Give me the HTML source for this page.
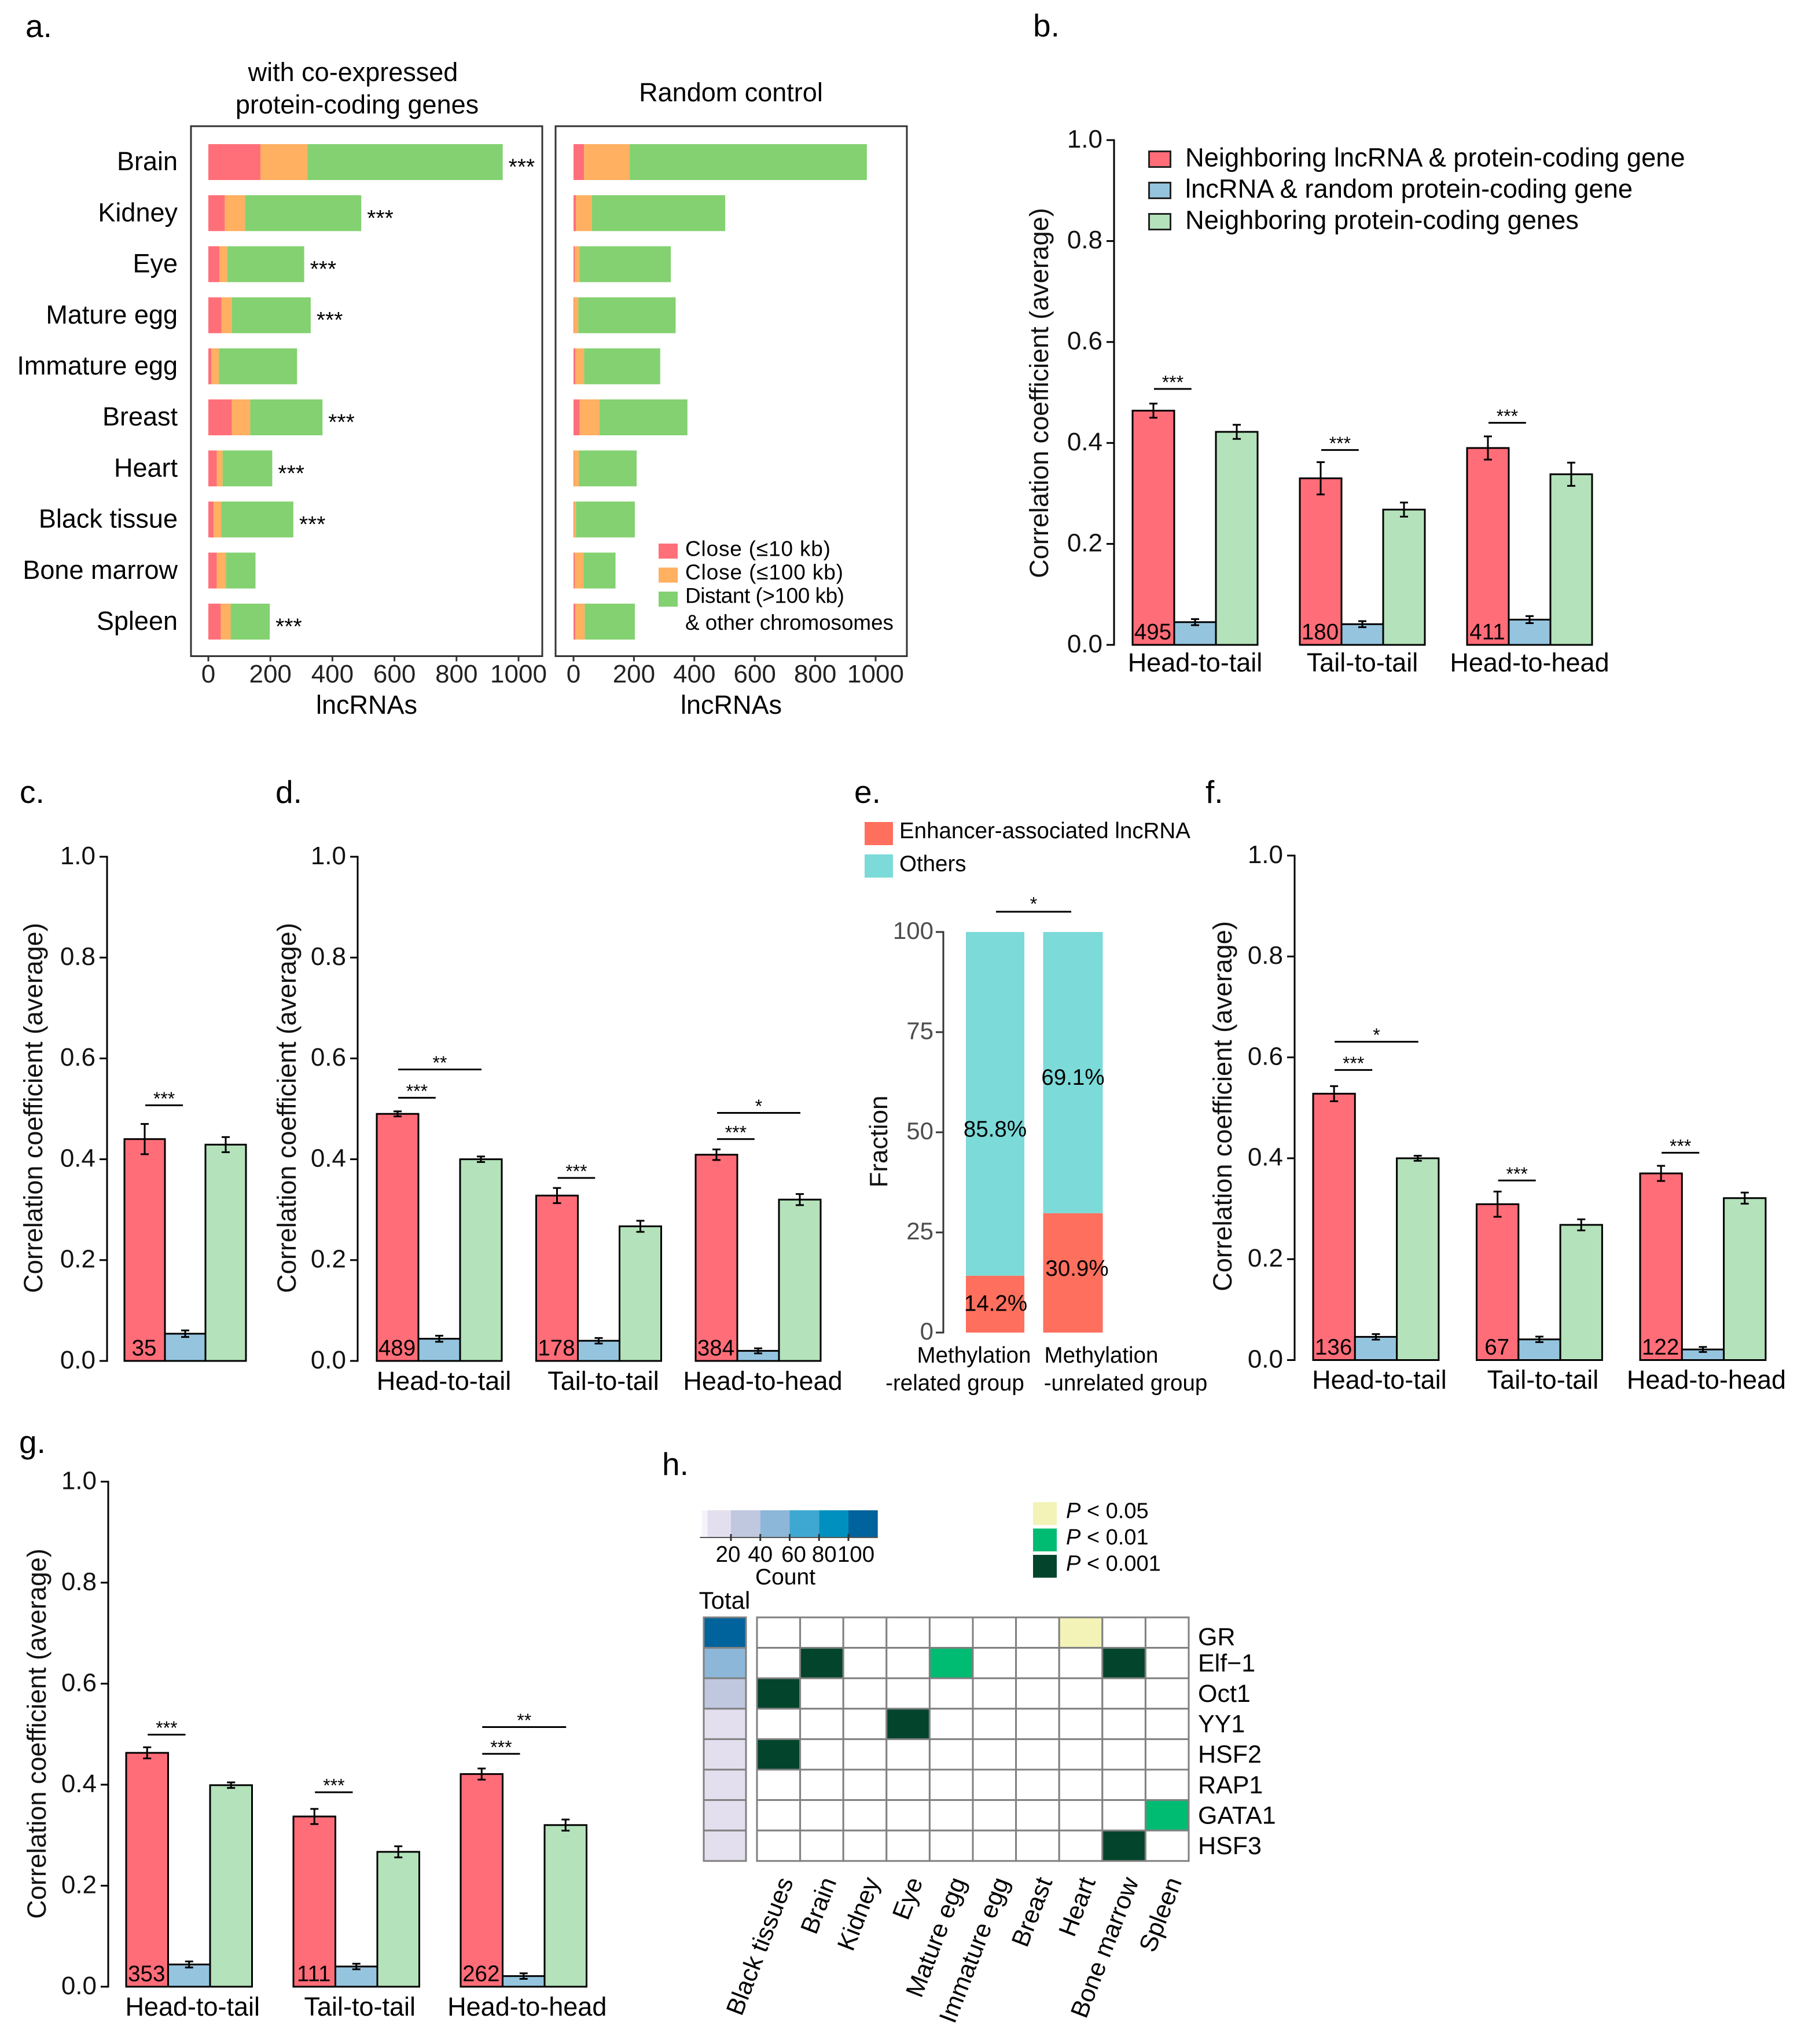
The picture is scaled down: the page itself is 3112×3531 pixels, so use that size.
<!DOCTYPE html>
<html lang="en">
<head>
<meta charset="utf-8">
<title>Correlation of lncRNAs and protein-coding genes</title>
<style>
html,body{margin:0;padding:0;background:#fff;width:3112px;height:3531px;overflow:hidden}
svg{display:block;font-family:"Liberation Sans",Arial,sans-serif}
</style>
</head>
<body>
<svg id="fig" xmlns="http://www.w3.org/2000/svg" width="3112" height="3531" viewBox="0 0 3112 3531">
<rect x="0" y="0" width="3112" height="3531" fill="#fff"/>
<g id="pa"></g>
<g id="pb"></g>
<g id="pc"></g>
<g id="pd"></g>
<g id="pe"></g>
<g id="pf"></g>
<g id="pg"></g>
<g id="ph"></g>
</svg>
<script>
/* ---------- data: panel a ---------- */
const tissues = ['Brain','Kidney','Eye','Mature egg','Immature egg','Breast','Heart','Black tissue','Bone marrow','Spleen'];
const coClose10 = [168,53,36,42,10,76,27,17,27,40];
const coClose100 = [152,65,25,34,24,59,19,25,30,32];
const coDistant = [629,375,248,254,252,233,160,232,95,126];
const coStars = ['***','***','***','***','','***','***','***','','***'];
const rndClose10 = [35,8,4,2,6,20,2,2,4,6];
const rndClose100 = [151,53,16,14,29,66,16,6,29,31];
const rndDistant = [785,441,302,322,252,291,191,195,106,166];
const countTicks = [0,200,400,600,800,1000];
const stackLegend = ['Close (≤10 kb)','Close (≤100 kb)','Distant (>100 kb)'];

/* ---------- data: shared bars ---------- */
const orientations = ['Head-to-tail','Tail-to-tail','Head-to-head'];
const corrTicks = [0,0.2,0.4,0.6,0.8,1.0];
const barLegend = ['Neighboring lncRNA & protein-coding gene','lncRNA & random protein-coding gene','Neighboring protein-coding genes'];

/* panel b */
const bNeighbor = [0.464,0.330,0.390];
const bRandom = [0.045,0.041,0.050];
const bCoding = [0.422,0.268,0.338];
const bNeighborErr = [0.014,0.032,0.023];
const bRandomErr = [0.006,0.006,0.007];
const bCodingErr = [0.014,0.014,0.023];
const bCounts = ['495','180','411'];
const bSigGroup = [0,1,2];
const bSigLevel = [0.507,0.386,0.440];
const bSigEnd = [0.9,0.9,0.9];
const bSigText = ['***','***','***'];

/* panel c */
const cNeighbor = [0.440];
const cRandom = [0.054];
const cCoding = [0.429];
const cNeighborErr = [0.030];
const cRandomErr = [0.0065];
const cCodingErr = [0.015];
const cCounts = ['35'];
const cSigGroup = [0];
const cSigLevel = [0.507];
const cSigEnd = [0.93];
const cSigText = ['***'];

/* panel d */
const dNeighbor = [0.490,0.328,0.409];
const dRandom = [0.044,0.040,0.020];
const dCoding = [0.400,0.267,0.320];
const dNeighborErr = [0.005,0.015,0.0105];
const dRandomErr = [0.006,0.0055,0.005];
const dCodingErr = [0.0055,0.011,0.011];
const dCounts = ['489','178','384'];
const dSigGroup = [0,0,1,2,2];
const dSigLevel = [0.522,0.578,0.363,0.440,0.492];
const dSigEnd = [0.9,2,0.9,0.9,2];
const dSigText = ['***','**','***','***','*'];

/* panel e */
const methGroups = ['Methylation|-related group','Methylation|-unrelated group'];
const enhancerShare = [14.2,29.8];
const othersShare = [85.8,70.2];
const enhancerLabels = ['14.2%','30.9%'];
const othersLabels = ['85.8%','69.1%'];
const fractionTicks = [0,25,50,75,100];

/* panel f */
const fNeighbor = [0.528,0.309,0.370];
const fRandom = [0.046,0.041,0.021];
const fCoding = [0.400,0.268,0.321];
const fNeighborErr = [0.015,0.025,0.015];
const fRandomErr = [0.0055,0.0055,0.005];
const fCodingErr = [0.005,0.011,0.011];
const fCounts = ['136','67','122'];
const fSigGroup = [0,0,1,2];
const fSigLevel = [0.575,0.631,0.356,0.411];
const fSigEnd = [0.9,2,0.9,0.9];
const fSigText = ['***','*','***','***'];

/* panel g */
const gNeighbor = [0.463,0.337,0.421];
const gRandom = [0.044,0.040,0.021];
const gCoding = [0.399,0.267,0.320];
const gNeighborErr = [0.011,0.015,0.011];
const gRandomErr = [0.006,0.0055,0.0055];
const gCodingErr = [0.0055,0.011,0.011];
const gCounts = ['353','111','262'];
const gSigGroup = [0,1,2,2];
const gSigLevel = [0.499,0.385,0.461,0.514];
const gSigEnd = [0.9,0.9,0.9,2];
const gSigText = ['***','***','***','**'];

/* panel h */
const motifs = ['GR','Elf−1','Oct1','YY1','HSF2','RAP1','GATA1','HSF3'];
const heatColumns = ['Black tissues','Brain','Kidney','Eye','Mature egg','Immature egg','Breast','Heart','Bone marrow','Spleen'];
const motifTotals = [105,50,30,12,12,12,12,12];
const heatLevels = [
 [0,0,0,0,0,0,0,1,0,0],
 [0,3,0,0,2,0,0,0,3,0],
 [3,0,0,0,0,0,0,0,0,0],
 [0,0,0,3,0,0,0,0,0,0],
 [3,0,0,0,0,0,0,0,0,0],
 [0,0,0,0,0,0,0,0,0,0],
 [0,0,0,0,0,0,0,0,0,2],
 [0,0,0,0,0,0,0,0,3,0]
];
const levelColors = ['#ffffff','#f3f3b8','#00bc72','#03452c'];
const levelLabels = ['< 0.05','< 0.01','< 0.001'];
const countStops = [0,4,20,40,60,80,100,120];
const countColors = ['#f6f4fa','#e4dfee','#c0c8e0','#8db7d8','#3fa8d2','#0090c0','#00639c'];
const countTickLabels = [20,40,60,80,100];

/* ---------- helpers ---------- */
const NS = 'http://www.w3.org/2000/svg';
const RED = '#ff6d78', BLUE = '#95c4df', GREEN = '#b4e2bb';
function mk(parent, tag, attrs, content) {
  const el = document.createElementNS(NS, tag);
  for (const k in attrs) el.setAttribute(k, attrs[k]);
  if (content !== undefined) el.textContent = content;
  parent.appendChild(el);
  return el;
}
function rect(p, x, y, w, h, fill, name, stroke, sw) {
  const el = mk(p, 'rect', {x:x, y:y, width:w, height:h, fill:fill, stroke:stroke||'none', 'stroke-width':sw||0});
  
  
  return el;
}
function line(p, x1, y1, x2, y2, sw, color, name) {
  const el = mk(p, 'line', {x1:x1, y1:y1, x2:x2, y2:y2, stroke:color||'#000', 'stroke-width':sw||3});
  
  
  return el;
}
/* y is the vertical centre of the text */
function text(p, x, y, str, size, anchor, name, fill) {
  const el = mk(p, 'text', {x:x, y:y + size * 0.36, 'font-size':size, 'text-anchor':anchor || 'middle', fill:fill || '#000'}, str);
  
  
  return el;
}
/* stars: y is the vertical centre of the asterisks */
function stars(p, x, y, str, size, anchor, name) {
  const el = mk(p, 'text', {x:x, y:y + size * 0.58, 'font-size':size, 'text-anchor':anchor || 'middle', fill:'#000'}, str);
  
  
  return el;
}
function panelLabel(p, x, baseline, str) {
  const el = mk(p, 'text', {x:x, y:baseline, 'font-size':55, fill:'#000'}, str);
  
  
}
function yTitle(p, x, y, str, size, fill) {
  const el = mk(p, 'text', {x:0, y:0, 'font-size':size, 'text-anchor':'middle', fill:fill || '#000',
    transform:'translate(' + x + ' ' + y + ') rotate(-90) translate(0 ' + (size * 0.36) + ')'}, str);
  
  
}

/* ---------- panel a ---------- */
function stackPanel(p, left, right, zero, unitsPerPx, close10, close100, distant, starList, side) {
  const top = 218, bottom = 1133.5, first = 249, step = 88.2, h = 62;
  const sx = v => zero + v * unitsPerPx;
  rect(p, left, top, right - left, bottom - top, 'none', side + '-frame', '#333', 3);
  tissues.forEach((t, i) => {
    const y = first + i * step;
    const a = close10[i], b = a + close100[i], c = b + distant[i];
    rect(p, sx(0), y, sx(a) - sx(0), h, '#ff6f79', side + '-bar-close10-' + i);
    rect(p, sx(a), y, sx(b) - sx(a), h, '#ffb061', side + '-bar-close100-' + i);
    rect(p, sx(b), y, sx(c) - sx(b), h, '#83d170', side + '-bar-distant-' + i);
    if (starList && starList[i]) stars(p, sx(c) + 10, y + h / 2 - 1, starList[i], 39, 'start', side + '-significance-' + i);
  });
  countTicks.forEach(v => {
    line(p, sx(v), bottom, sx(v), bottom + 9, 3, '#333', side + '-x-tick');
    text(p, sx(v), 1163, String(v), 44, 'middle', side + '-x-tick-label', '#222');
  });
  text(p, (left + right) / 2, 1217, 'lncRNAs', 45, 'middle', side + '-x-axis-title');
}
(function () {
  const p = document.getElementById('pa');
  panelLabel(p, 44, 64, 'a.');
  text(p, 610, 124, 'with co-expressed', 45, 'middle', 'title-co-expressed-line1');
  text(p, 617, 180, 'protein-coding genes', 45, 'middle', 'title-co-expressed-line2');
  text(p, 1263, 159, 'Random control', 45, 'middle', 'title-random-control');
  stackPanel(p, 330, 937, 360, 0.536, coClose10, coClose100, coDistant, coStars, 'coexpressed');
  stackPanel(p, 960, 1567, 991, 0.522, rndClose10, rndClose100, rndDistant, null, 'random');
  tissues.forEach((t, i) => {
    text(p, 307, 249 + i * 88.2 + 29, t, 45, 'end', 'tissue-label');
  });
  const colors = ['#ff6f79', '#ffb061', '#83d170'];
  const fits = [251, 273, 275];
  stackLegend.forEach((t, i) => {
    rect(p, 1138, 939 + i * 41.5, 33, 26, colors[i], 'stack-legend-swatch-' + i);
    const lab = text(p, 1184, 947 + i * 40.5, t, 37, 'start', 'stack-legend-label-' + i);
    lab.setAttribute('textLength', fits[i]);
  });
  text(p, 1184, 1075, '& other chromosomes', 36.8, 'start', 'stack-legend-label-extra');
})();

/* ---------- grouped bar panels ---------- */
function barPanel(p, g, neighbor, random, coding, nErr, rErr, cErr, counts, sigGroup, sigLevel, sigEnd, sigText) {
  const sy = v => g.bottom - v * (g.bottom - g.top);
  const barX = (group, idx) => g.firstX + group * g.step + idx * g.w;
  line(p, g.axisX, g.top - 1.5, g.axisX, g.bottom + 1.5, 3, '#000', 'y-axis-line');
  corrTicks.forEach(v => {
    line(p, g.axisX - 13, sy(v), g.axisX, sy(v), 3, '#000', 'y-tick');
    text(p, g.axisX - 20, sy(v) - 3, v.toFixed(1), 44, 'end', 'y-tick-label', '#111');
  });
  yTitle(p, g.titleX, g.titleY, 'Correlation coefficient (average)', 45, '#111');
  const colors = [RED, BLUE, GREEN];
  const names = ['neighbor', 'random', 'coding'];
  [neighbor, random, coding].forEach((series, s) => {
    const errs = [nErr, rErr, cErr][s];
    series.forEach((v, i) => {
      const x = barX(i, s);
      rect(p, x, sy(v), g.w, g.bottom - sy(v), colors[s], 'bar-' + names[s] + '-' + i, '#000', 3);
      const cx = x + g.w / 2;
      line(p, cx, sy(v + errs[i]), cx, sy(v - errs[i]), 3, '#000', 'error-bar-' + names[s] + '-' + i);
      line(p, cx - 7, sy(v + errs[i]), cx + 7, sy(v + errs[i]), 3, '#000', 'error-cap-' + names[s] + '-' + i);
      line(p, cx - 7, sy(v - errs[i]), cx + 7, sy(v - errs[i]), 3, '#000', 'error-cap-' + names[s] + '-' + i);
    });
  });
  counts.forEach((t, i) => {
    text(p, barX(i, 0) + g.w / 2 - 1, g.bottom - 23.5, t, 38.5, 'middle', 'count-label-' + i);
  });
  if (g.labels) {
    g.labels.forEach((t, i) => {
      text(p, barX(i, 1) + g.w / 2 + g.labelOff, g.labelY, t, 45, 'middle', 'x-category-label');
    });
  }
  sigGroup.forEach((gr, i) => {
    const x1 = barX(gr, 0) + g.w / 2 + 1;
    const x2 = x1 + sigEnd[i] * g.w;
    line(p, x1, sy(sigLevel[i]), x2, sy(sigLevel[i]), 3, '#000', 'significance-line');
    stars(p, (x1 + x2) / 2, sy(sigLevel[i]) - 19, sigText[i], 32, 'middle', 'significance-stars');
  });
}
(function () {
  const p = document.getElementById('pb');
  panelLabel(p, 1785, 63, 'b.');
  barPanel(p, {axisX:1925, top:242, bottom:1114, firstX:1957, w:72, step:289, titleX:1795, titleY:679, labels:orientations, labelOff:0, labelY:1144},
    bNeighbor, bRandom, bCoding, bNeighborErr, bRandomErr, bCodingErr, bCounts, bSigGroup, bSigLevel, bSigEnd, bSigText);
  const cols = [RED, BLUE, GREEN];
  barLegend.forEach((t, i) => {
    rect(p, 1985.5, 261.5 + i * 54, 37, 27, cols[i], 'bar-legend-swatch-' + i, '#222', 3);
    text(p, 2048, 271 + i * 54, t, 45.3, 'start', 'bar-legend-label-' + i);
  });
})();
(function () {
  const p = document.getElementById('pc');
  panelLabel(p, 34, 1387, 'c.');
  barPanel(p, {axisX:185, top:1480, bottom:2351, firstX:215, w:70, step:280, titleX:57, titleY:1914},
    cNeighbor, cRandom, cCoding, cNeighborErr, cRandomErr, cCodingErr, cCounts, cSigGroup, cSigLevel, cSigEnd, cSigText);
})();
(function () {
  const p = document.getElementById('pd');
  panelLabel(p, 476, 1387, 'd.');
  barPanel(p, {axisX:618, top:1480, bottom:2351, firstX:651, w:72, step:275.5, titleX:495, titleY:1914, labels:orientations, labelOff:8, labelY:2385},
    dNeighbor, dRandom, dCoding, dNeighborErr, dRandomErr, dCodingErr, dCounts, dSigGroup, dSigLevel, dSigEnd, dSigText);
})();
(function () {
  const p = document.getElementById('pf');
  panelLabel(p, 2083, 1387, 'f.');
  barPanel(p, {axisX:2237, top:1478, bottom:2349.5, firstX:2269, w:72.3, step:282.5, titleX:2112, titleY:1911, labels:orientations, labelOff:6, labelY:2383},
    fNeighbor, fRandom, fCoding, fNeighborErr, fRandomErr, fCodingErr, fCounts, fSigGroup, fSigLevel, fSigEnd, fSigText);
})();
(function () {
  const p = document.getElementById('pg');
  panelLabel(p, 33, 2510, 'g.');
  barPanel(p, {axisX:187, top:2559.5, bottom:3432, firstX:218, w:72.5, step:289, titleX:63, titleY:2995, labels:orientations, labelOff:6, labelY:3466},
    gNeighbor, gRandom, gCoding, gNeighborErr, gRandomErr, gCodingErr, gCounts, gSigGroup, gSigLevel, gSigEnd, gSigText);
})();

/* ---------- panel e ---------- */
(function () {
  const p = document.getElementById('pe');
  const top = 1610, bottom = 2302, axisX = 1630;
  const sy = v => bottom - v / 100 * (bottom - top);
  const barX = i => 1669 + i * 133.5;
  const barW = 101;
  const ENH = '#ff6f5e', OTH = '#7cdad8';
  panelLabel(p, 1476, 1387, 'e.');
  rect(p, 1494, 1420, 49, 40, ENH, 'legend-swatch-enhancer');
  rect(p, 1494, 1476, 49, 40, OTH, 'legend-swatch-others');
  text(p, 1554, 1434, 'Enhancer-associated lncRNA', 38.5, 'start', 'legend-label-enhancer');
  text(p, 1554, 1491, 'Others', 38.5, 'start', 'legend-label-others');
  line(p, axisX, top - 1.5, axisX, bottom + 1.5, 3, '#333', 'y-axis-line');
  fractionTicks.forEach(v => {
    line(p, axisX - 13, sy(v), axisX, sy(v), 3, '#333', 'y-tick');
    text(p, axisX - 17, sy(v) - 3, String(v), 42, 'end', 'y-tick-label', '#4d4d4d');
  });
  yTitle(p, 1517, 1972, 'Fraction', 44, '#111');
  const enhNudgeY = [-2, -9];
  const enhNudgeX = [1, 8];
  const othNudgeY = [43, 7];
  enhancerShare.forEach((v, i) => {
    const w = barW + (i ? 2 : 0);
    const cx = barX(i) + barW / 2;
    rect(p, barX(i), sy(v), w, bottom - sy(v), ENH, 'bar-enhancer-' + i);
    rect(p, barX(i), sy(v + othersShare[i]), w, sy(v) - sy(v + othersShare[i]), OTH, 'bar-others-' + i);
    text(p, cx + enhNudgeX[i], sy(v / 2) + enhNudgeY[i], enhancerLabels[i], 38.5, 'middle', 'label-enhancer-' + i);
    text(p, cx + (i ? 1 : 0), sy(v + othersShare[i] / 2) + othNudgeY[i], othersLabels[i], 38.5, 'middle', 'label-others-' + i);
  });
  const lineCenters = [1683, 1903];
  const secondCenters = [1650, 1945];
  methGroups.forEach((t, i) => {
    const parts = t.split('|');
    text(p, lineCenters[i], 2340, parts[0], 38.5, 'middle', 'x-category-label-line1');
    text(p, secondCenters[i], 2388, parts[1], 38.5, 'middle', 'x-category-label-line2');
  });
  line(p, 1721, 1575, 1851, 1575, 3, '#000', 'significance-line');
  stars(p, 1786, 1554, '*', 32, 'middle', 'significance-stars');
})();

/* ---------- panel h ---------- */
(function () {
  const p = document.getElementById('ph');
  panelLabel(p, 1144, 2548, 'h.');
  const cx = c => 1263 + (c - 20) * 2.5375;
  const colorOf = c => {
    for (let i = 0; i < countColors.length; i++) if (c < countStops[i + 1]) return countColors[i];
    return countColors[countColors.length - 1];
  };
  countColors.forEach((col, i) => {
    rect(p, cx(countStops[i]), 2609, cx(countStops[i + 1]) - cx(countStops[i]), 47, col, 'colorbar-segment-' + i);
  });
  line(p, cx(0) - 3, 2656, cx(120), 2656, 2, '#555', 'colorbar-axis');
  const tickNudge = [-5, 0, 7, 9, 13];
  countTickLabels.forEach((v, i) => {
    line(p, cx(v), 2650, cx(v), 2662, 3, '#333', 'colorbar-tick');
    text(p, cx(v) + tickNudge[i], 2684, String(v), 38.5, 'middle', 'colorbar-tick-label');
  });
  text(p, 1357, 2723, 'Count', 39, 'middle', 'colorbar-title');
  text(p, 1252, 2764, 'Total', 42, 'middle', 'total-column-title');
  levelLabels.forEach((t, i) => {
    rect(p, 1785, 2595 + i * 45.5, 41, 39.5, levelColors[i + 1], 'p-legend-swatch-' + i);
    const el = mk(p, 'text', {x:1842, y:2609 + i * 45.5 + 13.7, 'font-size':38, fill:'#000'});
    
    
    mk(el, 'tspan', {'font-style':'italic'}, 'P');
    mk(el, 'tspan', {}, ' ' + t);
  });
  const x0 = 1308, y0 = 2794, cw = 74.6, ch = 52.6;
  motifs.forEach((m, r) => {
    rect(p, 1216, y0 + r * ch, 73, ch, colorOf(motifTotals[r]), 'total-cell-' + r, '#808080', 3);
    heatColumns.forEach((c, k) => {
      rect(p, x0 + k * cw, y0 + r * ch, cw, ch, levelColors[heatLevels[r][k]], 'heat-cell-' + r + '-' + k, '#808080', 3);
    });
    text(p, 2070, y0 + (r + 0.5) * ch + (r === 0 ? 6 : -1), m, 43, 'start', 'motif-label');
  });
  heatColumns.forEach((c, k) => {
    const x = x0 + (k + 0.5) * cw + 26, y = 3250;
    const el = mk(p, 'text', {x:0, y:0, 'font-size':43, 'text-anchor':'end', fill:'#000',
      transform:'translate(' + x + ' ' + y + ') rotate(-69)'}, c);
    
    
  });
})();
</script>
</body>
</html>
